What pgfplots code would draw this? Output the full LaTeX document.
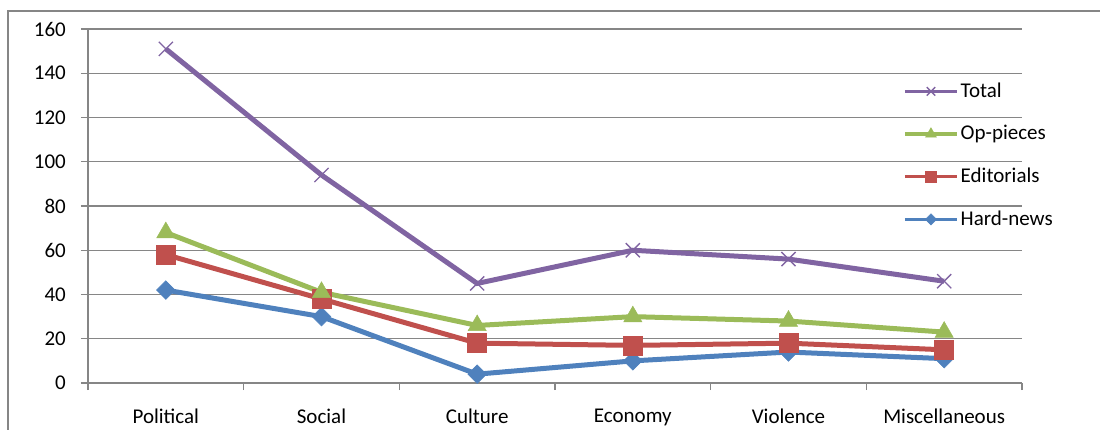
\documentclass[border=0pt]{standalone}
\usepackage{fontspec}
\setmainfont{Carlito}
\usepackage{pgfplots}
\pgfplotsset{compat=1.18}
\definecolor{cblue}{HTML}{4F81BD}
\definecolor{cred}{HTML}{C0504D}
\definecolor{cgreen}{HTML}{9BBB59}
\definecolor{cpurple}{HTML}{8064A2}
\definecolor{cgrid}{HTML}{868686}
\begin{document}
\fontsize{21bp}{25bp}\selectfont
\begin{tikzpicture}
\path[use as bounding box] (-88bp,-47bp) rectangle (1012bp,383bp);
\draw[color=cgrid, line width=1.5bp] (-80bp,-47bp) -- (-80bp,372bp) -- (1012bp,372bp);
\begin{axis}[at={(0,0)}, anchor=south west, scale only axis, width=934bp, height=354bp,
  xmin=-0.5, xmax=5.5, ymin=0, ymax=160, ytick={0,20,...,160},
  xtick={-0.5,0.5,1.5,2.5,3.5,4.5,5.5}, xticklabels={{},{},{},{},{},{},{}},
  extra x ticks={0,1,2,3,4,5},
  extra x tick labels={Political,Social,Culture,Economy,Violence,Miscellaneous},
  extra x tick style={major tick length=0pt, grid=none},
  axis lines*=left, axis line style={cgrid, line width=1.3bp},
  ymajorgrids, grid style={cgrid, line width=1.3bp},
  tick align=outside, major tick length=7bp,
  tick style={cgrid, line width=1.3bp},
  /pgf/number format/assume math mode=true,
  tick label style={font=\fontsize{21bp}{25bp}\selectfont, text=black},
  x tick label style={yshift=-19bp},
  y tick label style={xshift=-8bp},
  legend style={draw=none, fill=none, at={(0.8726,0.855)}, anchor=north west,
    inner sep=0pt, row sep=21bp, font=\fontsize{21bp}{25bp}\selectfont},
  legend cell align=left,
  reverse legend,
  legend image code/.code={\draw[mark repeat=2,mark phase=2,line width=3.5bp,every mark/.append style={scale=0.6}] plot coordinates {(0bp,0bp) (26bp,0bp) (52bp,0bp)};},
]
\addplot[color=cblue, line width=5bp, mark=square*, mark size=6.6bp, mark options={rotate=45, line width=0.5bp}]
  coordinates {(0,42) (1,30) (2,4) (3,10) (4,14) (5,11)};
\addlegendentry{Hard-news}
\addplot[color=cred, line width=5bp, mark=square*, mark size=9.5bp, mark options={line width=0.5bp}]
  coordinates {(0,58) (1,38) (2,18) (3,17) (4,18) (5,15)};
\addlegendentry{Editorials}
\addplot[color=cgreen, line width=5bp, mark=triangle*, mark size=10.5bp, mark options={line width=0.5bp}]
  coordinates {(0,68) (1,41) (2,26) (3,30) (4,28) (5,23)};
\addlegendentry{Op-pieces}
\addplot[color=cpurple, line width=5bp, mark=x, mark size=10bp, mark options={line width=1.3bp}]
  coordinates {(0,151) (1,94) (2,45) (3,60) (4,56) (5,46)};
\addlegendentry{Total}
\end{axis}
\end{tikzpicture}
\end{document}
